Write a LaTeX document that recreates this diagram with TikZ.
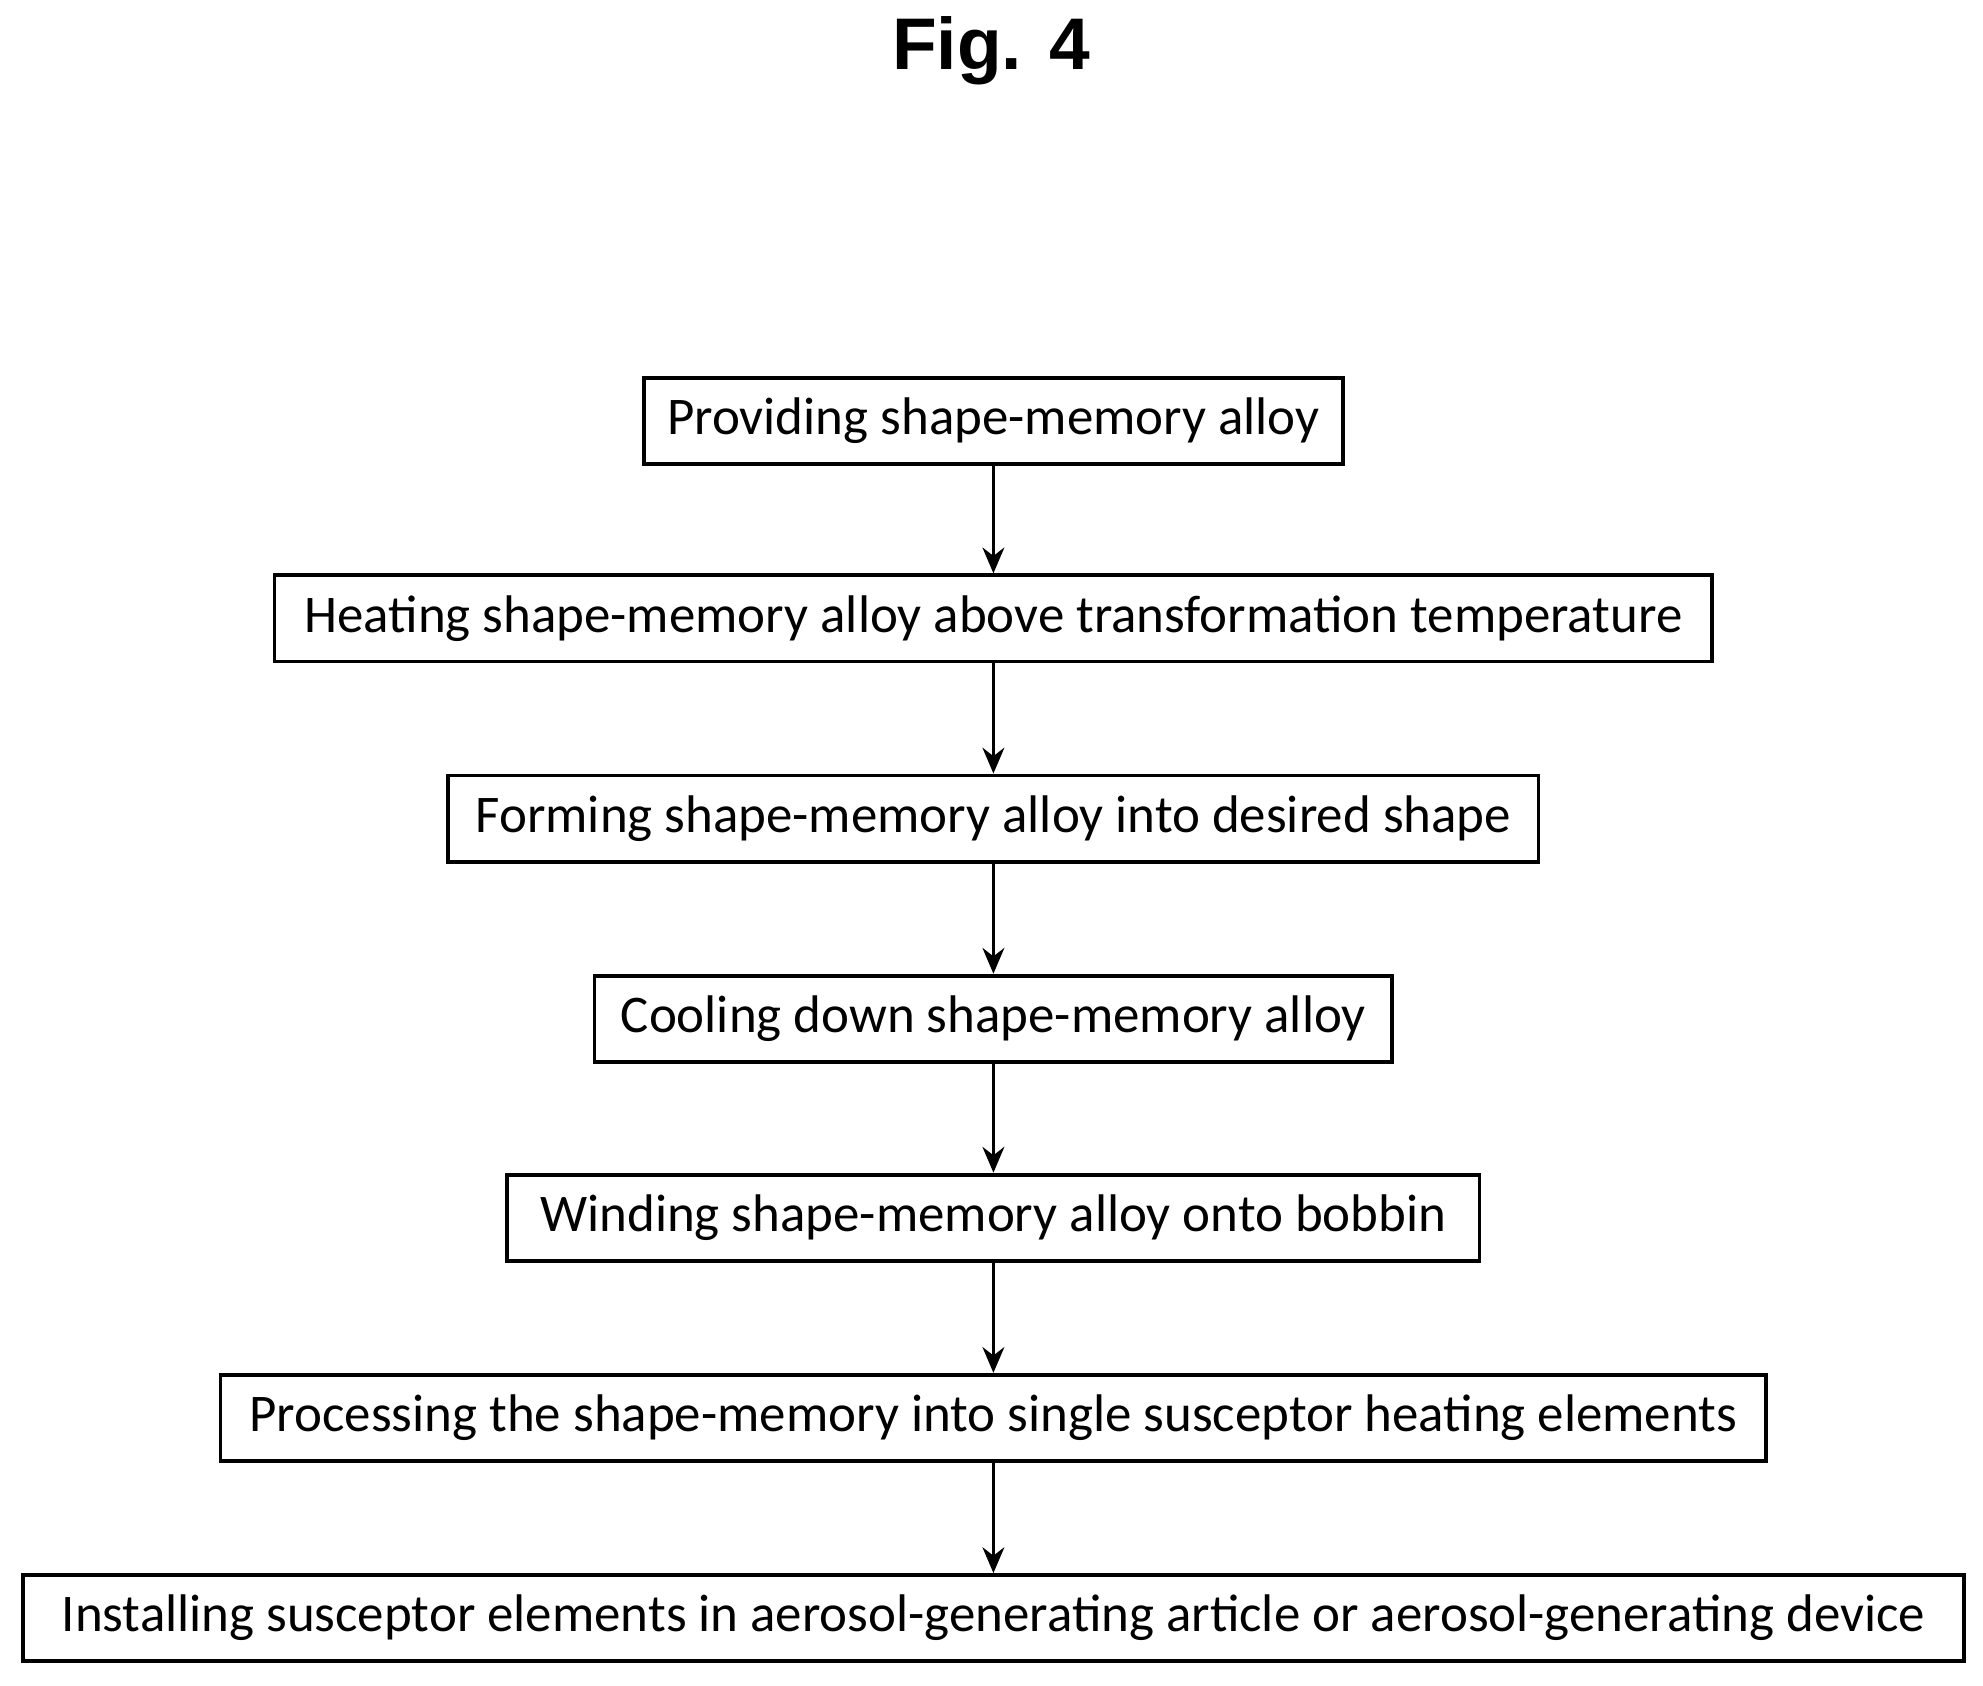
\documentclass[tikz,border=0pt]{standalone}
\usepackage{fontspec}
\setmainfont{Carlito}
\newfontfamily\titlefont{Liberation Sans}
\usetikzlibrary{arrows.meta}

\begin{document}
\begin{tikzpicture}
        [x=0.01278cm,y=-0.01278cm,every node/.style={draw,shape=rectangle,line width=1.1pt,inner sep=0,minimum height=0.87cm,font=\fontsize{15.2}{17}\selectfont}, every path/.style={line width=1pt}, >={Stealth[length=2.6mm,width=2.2mm]}]

        \useasboundingbox (0,0) rectangle (1565,1330);
        \node[draw=none,font=\titlefont\bfseries\fontsize{21}{24}\selectfont] (title) at (782,40) {Fig. 4};

        \node[minimum width=7.05cm] (s1) at (784,332) {Providing shape-memory alloy};
        \node[minimum width=14.51cm] (s2) at (784,488) {Heating shape-memory alloy above transformation temperature};
        \node[minimum width=11.0cm] (s3) at (784,646) {Forming shape-memory alloy into desired shape};
        \node[minimum width=8.05cm] (s4) at (784,804) {Cooling down shape-memory alloy};
        \node[minimum width=9.81cm] (s5) at (784,961) {Winding shape-memory alloy onto bobbin};
        \node[minimum width=15.6cm] (s6) at (784,1119) {Processing the shape-memory into single susceptor heating elements};
        \node[minimum width=19.59cm] (s7) at (784,1277) {Installing susceptor elements in aerosol-generating article or aerosol-generating device};

        \draw[->] (s1) -- (s2);
        \draw[->] (s2) -- (s3);
        \draw[->] (s3) -- (s4);
        \draw[->] (s4) -- (s5);
        \draw[->] (s5) -- (s6);
        \draw[->] (s6) -- (s7);

      \end{tikzpicture}
\end{document}
